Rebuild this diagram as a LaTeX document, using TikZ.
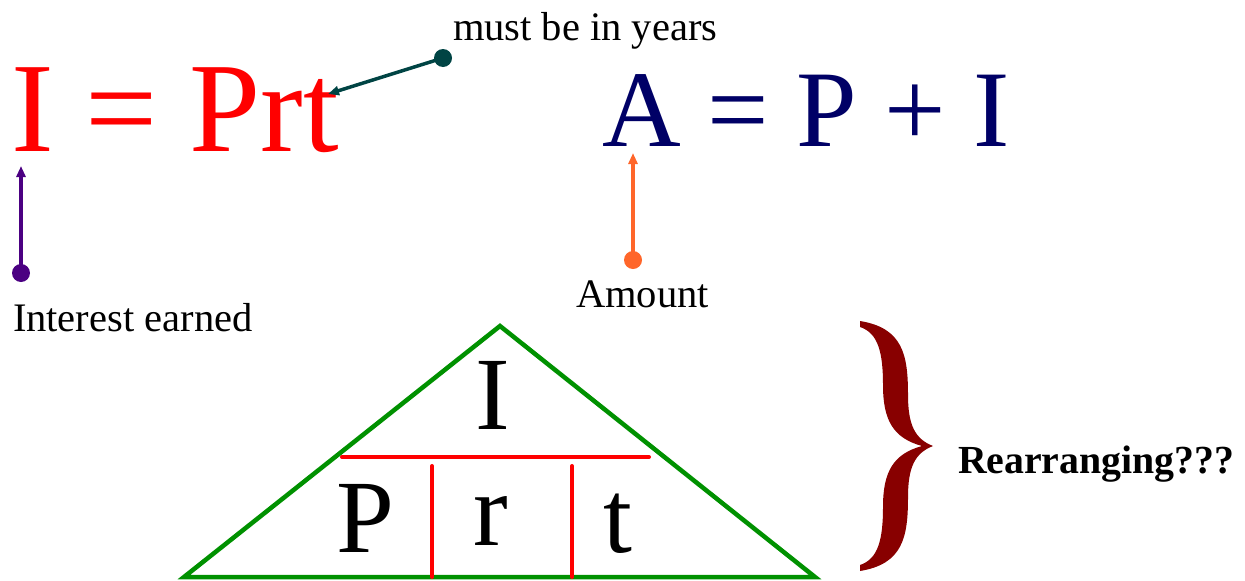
\documentclass[tikz,border=0pt]{standalone}
\usepackage{fontspec}
\setmainfont{Liberation Serif}
\usetikzlibrary{arrows.meta}
\definecolor{eqred}{RGB}{255,0,0}
\definecolor{eqnavy}{RGB}{0,0,102}
\definecolor{trigreen}{RGB}{0,145,0}
\definecolor{bracered}{RGB}{136,0,0}
\definecolor{tealarrow}{RGB}{0,68,68}
\definecolor{purparrow}{RGB}{75,0,130}
\definecolor{orangearrow}{RGB}{255,102,42}
\tikzset{
  txt/.style={inner sep=0pt, outer sep=0pt, anchor=base west},
  label40/.style={txt, font=\fontsize{40.5}{42}\selectfont},
  bigred/.style={txt, text=eqred, font=\fontsize{128}{130}\selectfont},
  bignavy/.style={txt, text=eqnavy, font=\fontsize{109}{112}\selectfont},
  trilet/.style={inner sep=0pt, outer sep=0pt, anchor=base, font=\fontsize{104}{106}\selectfont},
  callout/.style={line width=3.5pt, -{Triangle[length=11pt,width=9pt]}},
  dotmark/.style={circle, inner sep=0pt, minimum size=18pt},
  redline/.style={eqred, line width=4pt, line cap=round},
}
\begin{document}
\begin{tikzpicture}[x=1pt,y=-1pt]
\useasboundingbox (0,0) rectangle (1245,581);
% formulas
\node[bigred] (f1) at (11,151) {I = Prt};
\node[bignavy] (f2) at (602,146) {A = P + I};
% labels
\node[label40] (lyears) at (453,40) {must be in years};
\node[label40] (linterest) at (13,331) {Interest earned};
\node[label40] (lamount) at (576,307) {Amount};
\node[txt, font=\bfseries\fontsize{39.8}{41}\selectfont] (lrearr) at (958,473) {Rearranging???};
% callouts
\node[dotmark, fill=tealarrow] (dyears) at (443,58) {};
\coordinate (tyears) at (328,94);
\draw[callout, tealarrow] (dyears.center) -- (tyears);
\node[dotmark, fill=purparrow] (dint) at (21,273) {};
\coordinate (tint) at (21,166);
\draw[callout, purparrow] (dint.center) -- (tint);
\node[dotmark, fill=orangearrow] (damt) at (633,260) {};
\coordinate (tamt) at (633,153);
\draw[callout, orangearrow] (damt.center) -- (tamt);
% triangle
\coordinate (apex) at (500,326);
\coordinate (bl) at (184,577);
\coordinate (br) at (815,577);
\draw[trigreen, line width=4.5pt, line join=miter] (bl) -- (apex) -- (br) -- cycle;
\coordinate (hl) at (342,457);
\coordinate (hr) at (649,457);
\draw[redline] (hl) -- (hr);
\coordinate (v1t) at (432,466);
\coordinate (v1b) at (432,577);
\coordinate (v2t) at (572,466);
\coordinate (v2b) at (572,577);
\draw[redline] (v1t) -- (v1b);
\draw[redline] (v2t) -- (v2b);
\node[trilet] (tI) at (492.5,429) {I};
\node[trilet] (tP) at (365,552) {P};
\node[trilet] (tr) at (491,545) {r};
\node[trilet] (tt) at (618,552) {t};
% brace
\fill[bracered] (933,446)
  .. controls (915,439) and (908,425) .. (908,395)
  .. controls (908,355) and (903,328) .. (860,321)
  -- (860,327)
  .. controls (878,333) and (883,352) .. (883,385)
  .. controls (883,420) and (893,438) .. (922,446)
  .. controls (893,454) and (883,472) .. (883,507)
  .. controls (883,540) and (878,559) .. (860,565)
  -- (860,571)
  .. controls (903,564) and (908,537) .. (908,497)
  .. controls (908,467) and (915,453) .. (933,446) -- cycle;
\end{tikzpicture}
\end{document}
